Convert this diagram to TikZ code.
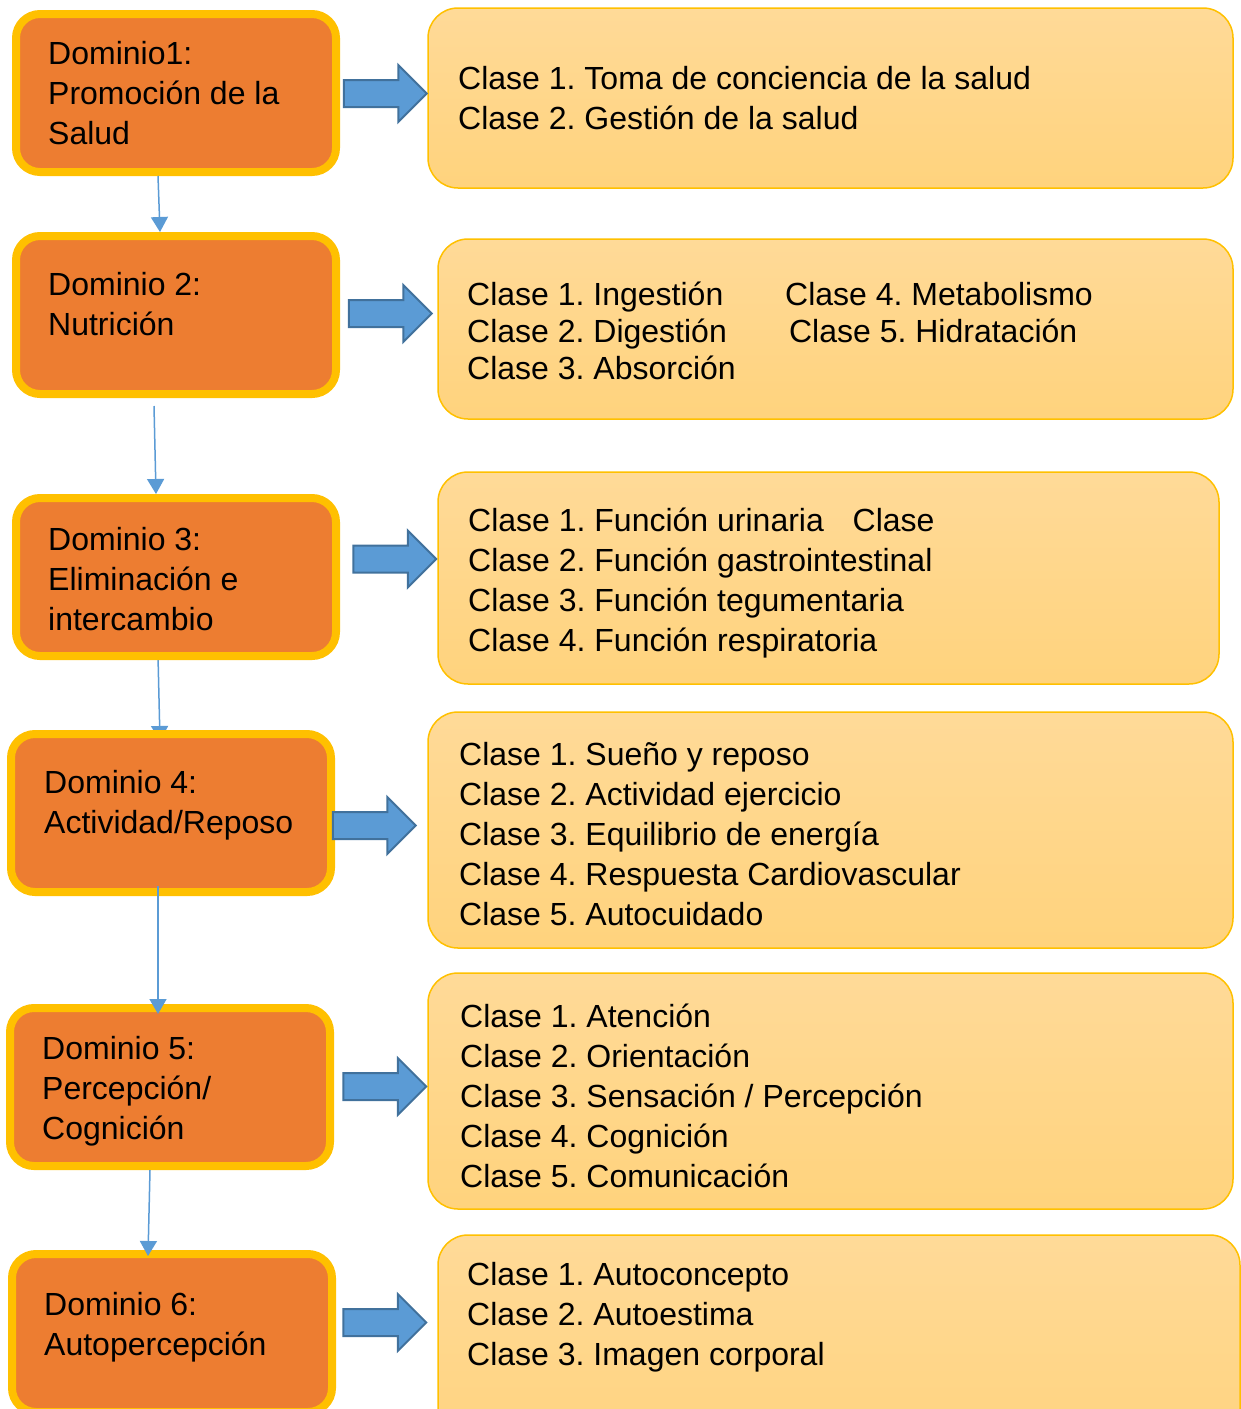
\documentclass[tikz,border=0pt]{standalone}
\usepackage{fontspec}
\setmainfont{Liberation Sans}
\frenchspacing
\usetikzlibrary{shapes.arrows,arrows.meta,backgrounds}
\definecolor{naranja}{HTML}{ED7D31}
\definecolor{amarillo}{HTML}{FFC000}
\definecolor{azul}{HTML}{5B9BD5}
\definecolor{azuloscuro}{HTML}{41719C}
\definecolor{claroarriba}{RGB}{255,218,152}
\definecolor{claroabajo}{RGB}{255,211,125}

\begin{document}
\begin{tikzpicture}[x=1pt,y=-1pt,
  dominio/.style={draw=amarillo,fill=naranja,line width=8pt,rounded corners=24pt,
    minimum width=320pt,minimum height=158pt,inner sep=0pt},
  clase/.style={draw=amarillo,line width=1.5pt,rounded corners=30pt,
    top color=claroarriba,bottom color=claroabajo,inner sep=0pt},
  texto/.style={anchor=north west,inner sep=0pt,align=left,font=\fontsize{32}{40}\selectfont},
  bloque/.style={single arrow,draw=azuloscuro,fill=azul,line width=2pt,minimum height=83pt,
    inner xsep=0pt,inner ysep=12.5pt,single arrow head extend=15pt},
  flechita/.style={azul,line width=1.5pt,-{Triangle[width=17pt,length=15pt]}}]
\useasboundingbox (0,0) rectangle (1241,1409);
\clip (0,0) rectangle (1241,1409);

% clases
\node[clase,minimum width=805pt,minimum height=180pt] (c1) at (830.5,98) {};
\node[clase,minimum width=795pt,minimum height=180pt] (c2) at (835.5,329) {};
\node[clase,minimum width=781pt,minimum height=212pt] (c3) at (828.5,578) {};
\node[clase,minimum width=805pt,minimum height=236pt] (c4) at (830.5,830) {};
\node[clase,minimum width=805pt,minimum height=236pt] (c5) at (830.5,1091) {};
\node[clase,minimum width=802pt,minimum height=236pt] (c6) at (839,1353) {};

\node[texto] (tc1) at (458,66.5) {Clase 1. Toma de conciencia de la salud\\Clase 2. Gestión de la salud};
\node[texto,font=\fontsize{32}{37}\selectfont] (tc2) at (467,281.5) {\makebox[318pt][l]{Clase 1. Ingestión}Clase 4. Metabolismo\\
  \makebox[322pt][l]{Clase 2. Digestión}Clase 5. Hidratación\\Clase 3. Absorción};
\node[texto] (tc3) at (468,507.5) {Clase 1. Función urinaria\hspace{20pt} Clase\\Clase 2. Función gastrointestinal\\
  Clase 3. Función tegumentaria\\Clase 4. Función respiratoria};
\node[texto] (tc4) at (459,742.5) {Clase 1. Sueño y reposo\\Clase 2. Actividad ejercicio\\Clase 3. Equilibrio de energía\\
  Clase 4. Respuesta Cardiovascular\\Clase 5. Autocuidado};
\node[texto] (tc5) at (460,1003.5) {Clase 1. Atención\\Clase 2. Orientación\\Clase 3. Sensación / Percepción\\
  Clase 4. Cognición\\Clase 5. Comunicación};
\node[texto] (tc6) at (467,1262.5) {Clase 1. Autoconcepto\\Clase 2. Autoestima\\Clase 3. Imagen corporal};

% dominios
\node[dominio] (d1) at (176,93) {};
\node[dominio] (d2) at (176,315) {};
\node[dominio] (d3) at (176,577) {};
\node[dominio] (d4) at (171,813) {};
\node[dominio] (d5) at (170,1087) {};
\node[dominio] (d6) at (172,1333) {};

\node[texto] (td1) at (48,41.5) {Dominio1:\\Promoción de la\\Salud};
\node[texto] (td2) at (48,272.5) {Dominio 2:\\Nutrición};
\node[texto] (td3) at (48,527.5) {Dominio 3:\\Eliminación e\\intercambio};
\node[texto] (td4) at (44,770.5) {Dominio 4:\\Actividad/Reposo};
\node[texto] (td5) at (42,1036.5) {Dominio 5:\\Percepción/\\Cognición};
\node[texto] (td6) at (44,1292.5) {Dominio 6:\\Autopercepción};

% flechas
\node[bloque] (f1) at (378.5,93.5) {};
\node[bloque] (f2) at (383.5,313.5) {};
\node[bloque] (f3) at (388,559) {};
\node[bloque] (f4) at (367.5,825.5) {};
\node[bloque] (f5) at (378,1086.5) {};
\node[bloque] (f6) at (378,1322.5) {};

\draw[flechita] ([xshift=-18pt]d1.south) -- ([xshift=-16pt]d2.north);
\draw[flechita] ([xshift=-22pt,yshift=-8pt]d2.south) -- ([xshift=-20pt]d3.north);
\begin{pgfonlayer}{background}
\draw[flechita] ([xshift=-18pt,yshift=4pt]d3.south) -- ([xshift=-11pt,yshift=-11pt]d4.north);
\end{pgfonlayer}
\draw[flechita] ([xshift=-13pt,yshift=10pt]d4.south) -- ([xshift=-12pt,yshift=-10pt]d5.north);
\draw[flechita] ([xshift=-20pt]d5.south) -- ([xshift=-24pt,yshift=-6pt]d6.north);
\end{tikzpicture}
\end{document}
